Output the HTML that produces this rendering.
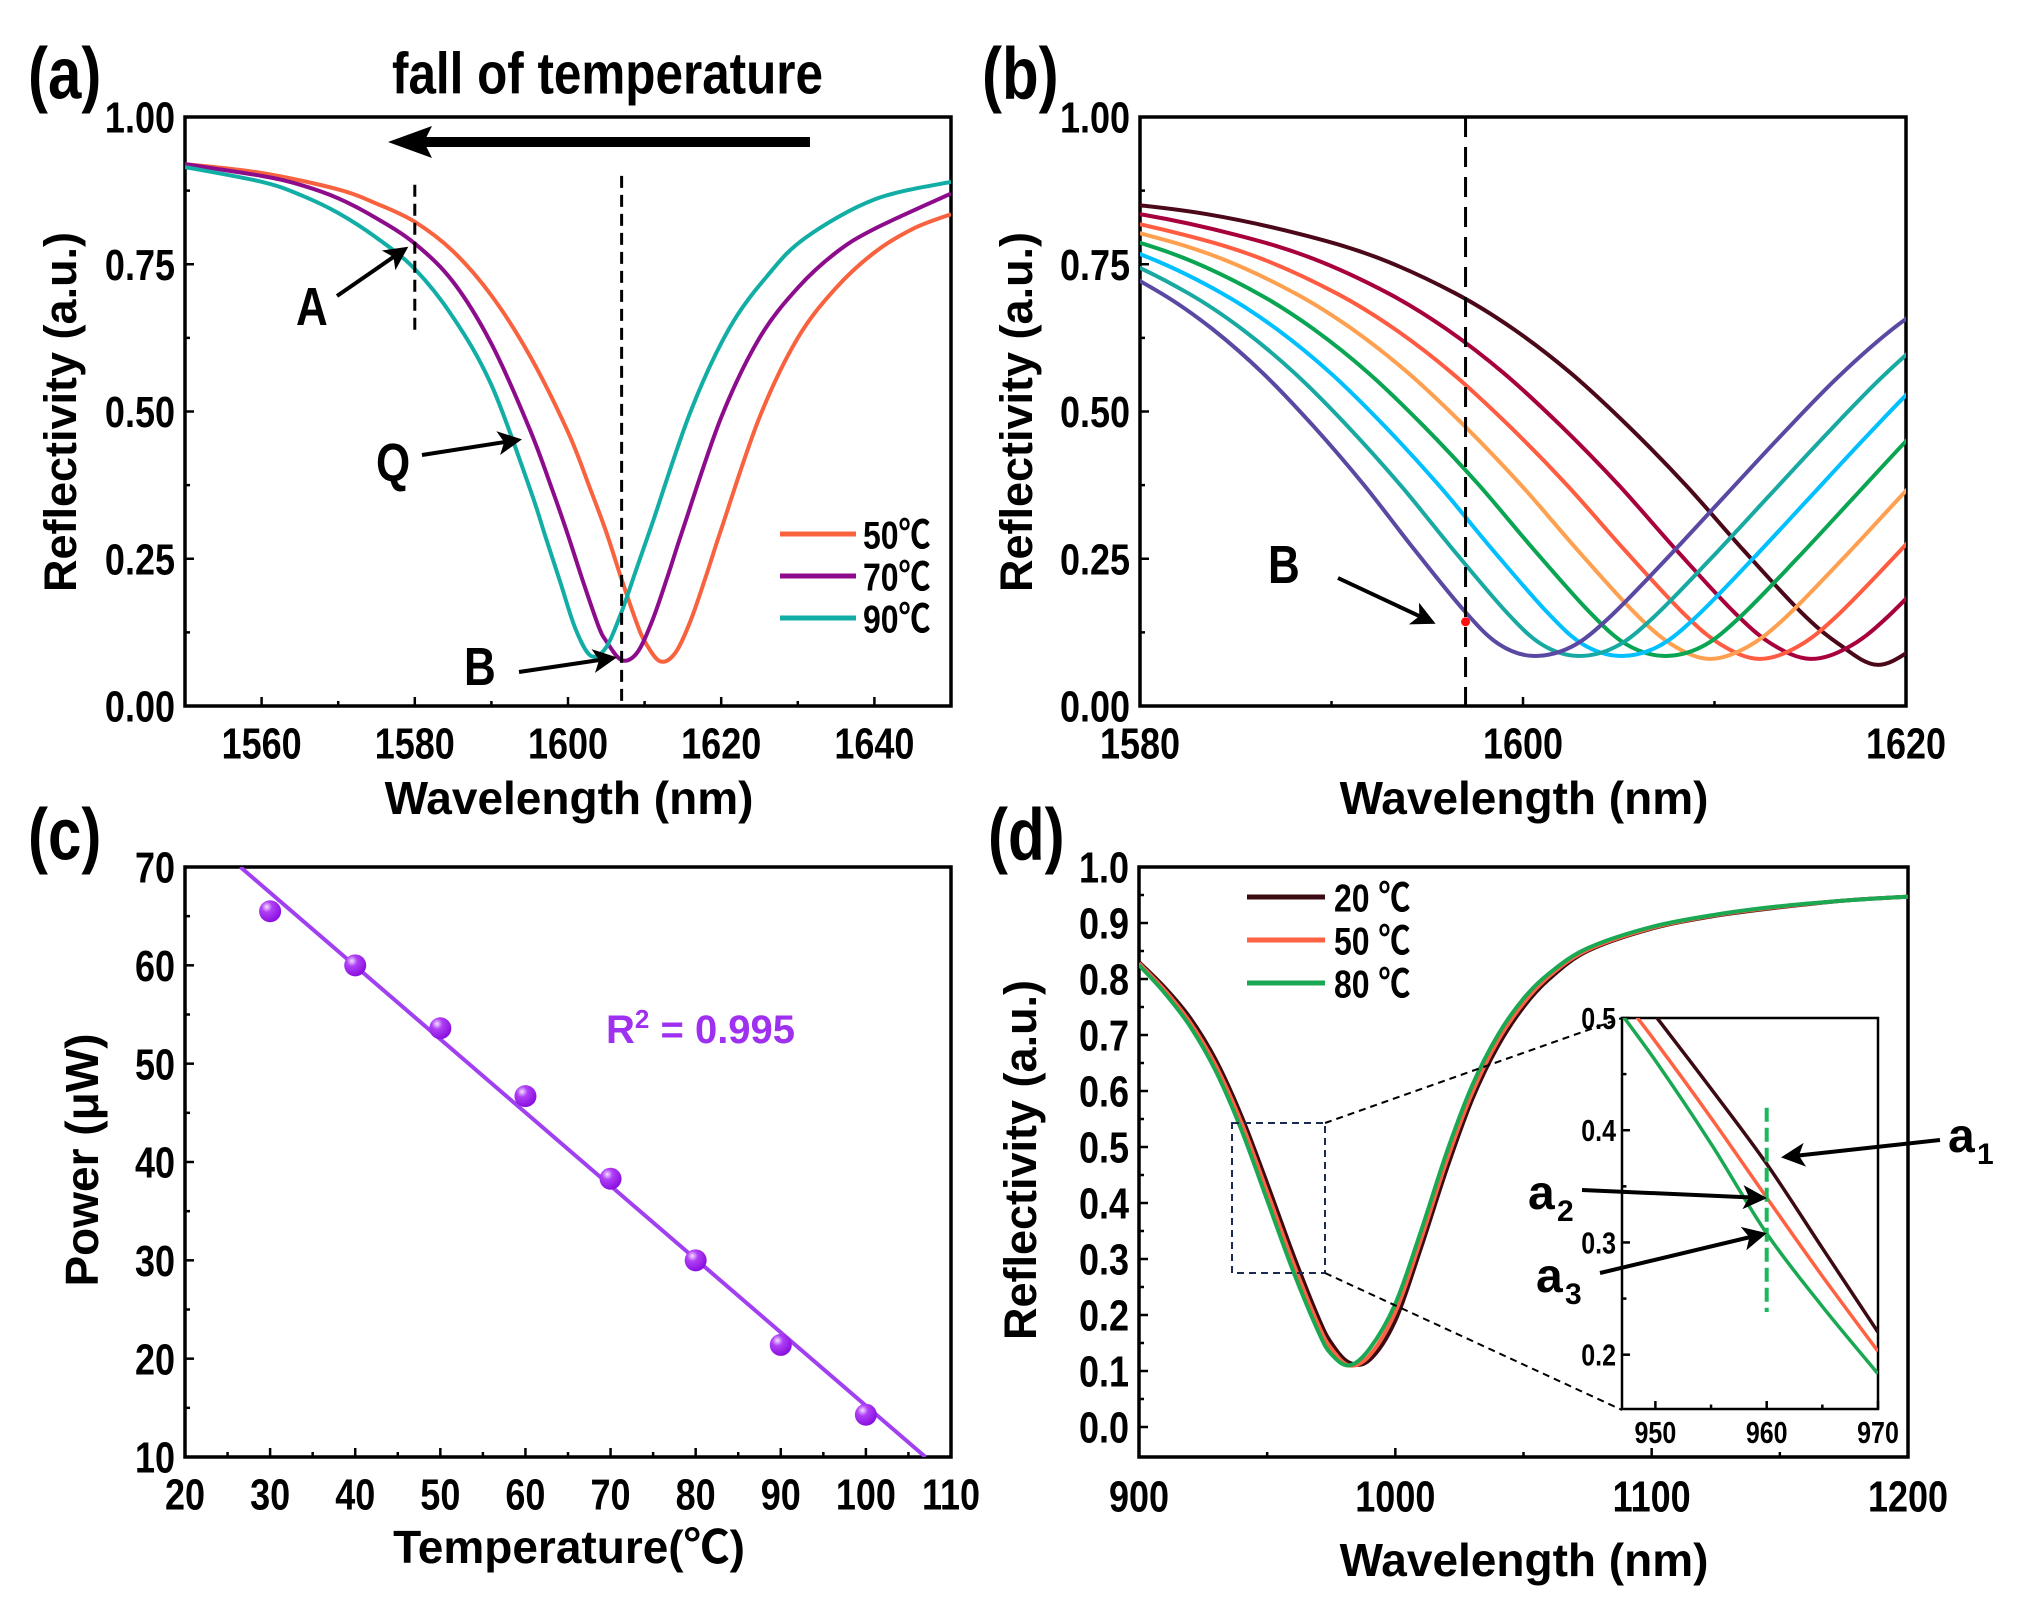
<!DOCTYPE html>
<html><head><meta charset="utf-8">
<style>
html,body{margin:0;padding:0;background:#fff;}
svg{display:block;}
text{font-family:"Liberation Sans","Noto Sans CJK SC",sans-serif;font-weight:bold;fill:#000;}
.tall{transform-box:fill-box;transform-origin:center;transform:scaleY(1.22);}
</style></head>
<body>
<svg id="fig" width="2019" height="1610" viewBox="0 0 2019 1610" xmlns="http://www.w3.org/2000/svg">
<defs>
<marker id="ah" markerWidth="6" markerHeight="6" refX="5" refY="3" orient="auto" markerUnits="strokeWidth"><path d="M0,0 L6,3 L0,6 L1.5,3 z" fill="#000"/></marker>
<radialGradient id="ball" cx="0.35" cy="0.3" r="0.7"><stop offset="0" stop-color="#f4e0ff"/><stop offset="0.35" stop-color="#b040f5"/><stop offset="1" stop-color="#8a10e0"/></radialGradient>
<clipPath id="clipA"><rect x="185" y="117" width="766" height="589"/></clipPath>
<clipPath id="clipB"><rect x="1140" y="117" width="766" height="589"/></clipPath>
<clipPath id="clipC"><rect x="185" y="867" width="766" height="590"/></clipPath>
<clipPath id="clipD"><rect x="1139" y="867" width="769" height="590"/></clipPath>
<clipPath id="clipI"><rect x="1622" y="1018" width="256" height="391"/></clipPath>
</defs>
</svg>
<script>
// ---------- Panel (a) data ----------
const a50X = [1550,1560,1570,1575,1580,1585,1590,1595,1600,1603,1605,1607,1609,1610,1612,1614,1616,1618,1620,1625,1630,1635,1640,1645,1650];
const a50  = [0.92,0.905,0.877,0.853,0.822,0.772,0.697,0.595,0.465,0.365,0.295,0.215,0.14,0.11,0.076,0.09,0.145,0.22,0.30,0.49,0.625,0.71,0.77,0.81,0.835];
const a70X = [1550,1560,1565,1570,1575,1580,1585,1590,1595,1598,1600,1602,1604,1605,1607,1609,1611,1613,1615,1620,1625,1630,1635,1640,1650];
const a70  = [0.92,0.90,0.885,0.862,0.828,0.785,0.72,0.615,0.47,0.365,0.29,0.21,0.135,0.11,0.078,0.09,0.145,0.22,0.30,0.49,0.625,0.71,0.77,0.81,0.87];
const a90X = [1550,1560,1565,1570,1575,1580,1585,1590,1595,1597,1599,1601,1603,1605,1607,1609,1611,1616,1621,1626,1631,1640,1650];
const a90  = [0.915,0.89,0.868,0.837,0.795,0.742,0.66,0.545,0.37,0.29,0.21,0.13,0.085,0.1,0.16,0.235,0.31,0.50,0.64,0.73,0.795,0.86,0.89];
const aLegend = ["50℃","70℃","90℃"];
// ---------- Panel (b) data ----------
const bShapeD = [-46,-40,-35,-30,-26,-22,-19,-16,-13,-10,-7,-4,-2,0,2,4,7,10,13,16,19,22,25];
const bShapeR = [0.87,0.855,0.835,0.80,0.76,0.70,0.64,0.565,0.475,0.375,0.265,0.16,0.105,0.08,0.10,0.15,0.25,0.355,0.46,0.56,0.645,0.71,0.76];
const bCenters = [1618.5,1615,1612.3,1609.7,1607.3,1605,1602.8,1600.5];
const bWidths  = [1.0,1.0,1.0,0.98,0.96,0.94,0.92,0.88];
const bWidthsR = [1.0,1.0,1.0,1.0,1.0,1.0,1.0,1.0];
const bMins    = [0.07,0.08,0.08,0.08,0.085,0.085,0.085,0.085];
const bColors  = ['#4a0818','#a8003c','#ff5c42','#ffa050','#0aa552','#00c0ff','#18aaa2','#5a48a2'];
const bMarkX = 1597, bMarkY = 0.143;
// ---------- Panel (c) data ----------
const cTemp = [30,40,50,60,70,80,90,100];
const cPower = [65.5,60,53.6,46.7,38.3,30,21.4,14.3];
const cFitX = [26.5,107];
const cFitY = [70,10];
// ---------- Panel (d) data ----------
const dX = [900,910,920,930,940,950,960,970,975,982,990,1000,1010,1020,1030,1040,1050,1060,1075,1100,1125,1150,1175,1200];
const d20 = [0.83,0.785,0.73,0.655,0.555,0.435,0.31,0.195,0.15,0.115,0.12,0.19,0.32,0.46,0.585,0.68,0.75,0.80,0.85,0.89,0.913,0.928,0.94,0.947];
const d50 = [0.828,0.78,0.722,0.645,0.543,0.42,0.295,0.182,0.14,0.11,0.128,0.205,0.335,0.475,0.597,0.69,0.757,0.805,0.852,0.891,0.914,0.929,0.94,0.947];
const d80 = [0.825,0.775,0.715,0.635,0.53,0.405,0.28,0.17,0.13,0.11,0.14,0.22,0.35,0.49,0.61,0.70,0.765,0.81,0.855,0.893,0.915,0.93,0.94,0.947];
const dLegend = ["20 ℃","50 ℃","80 ℃"];
const iX = [946,950,955,960,965,970];
const i20 = [0.555,0.502,0.437,0.370,0.295,0.22];
const i50 = [0.531,0.479,0.411,0.340,0.270,0.203];
const i80 = [0.516,0.462,0.388,0.308,0.243,0.183];

const NS="http://www.w3.org/2000/svg";
const svg=document.getElementById('fig');
function el(tag,attrs,parent){const e=document.createElementNS(NS,tag);for(const k in attrs)e.setAttribute(k,attrs[k]);(parent||svg).appendChild(e);return e;}
function txt(s,attrs,parent){const e=el('text',attrs,parent);e.textContent=s;return e;}
function scale(d0,d1,p0,p1){return v=>p0+(v-d0)*(p1-p0)/(d1-d0);}
function smooth(pts){let d='M'+pts[0][0].toFixed(1)+','+pts[0][1].toFixed(1);
 for(let i=0;i<pts.length-1;i++){const p0=pts[i-1]||pts[i],p1=pts[i],p2=pts[i+1],p3=pts[i+2]||p2;
  const c1=[p1[0]+(p2[0]-p0[0])/6,p1[1]+(p2[1]-p0[1])/6],c2=[p2[0]-(p3[0]-p1[0])/6,p2[1]-(p3[1]-p1[1])/6];
  d+=' C'+c1[0].toFixed(1)+','+c1[1].toFixed(1)+' '+c2[0].toFixed(1)+','+c2[1].toFixed(1)+' '+p2[0].toFixed(1)+','+p2[1].toFixed(1);}
 return d;}
function axes(o){
 const g=el('g',{});
 
 
 el('rect',{x:o.x0,y:o.y0,width:o.x1-o.x0,height:o.y1-o.y0,fill:'none',stroke:'#000','stroke-width':o.sw||3.5},g);
 const fx=scale(o.xd[0],o.xd[1],o.x0,o.x1), fy=scale(o.yd[0],o.yd[1],o.y1,o.y0);
 o.xminor.forEach(v=>el('line',{x1:fx(v),x2:fx(v),y1:o.y1,y2:o.y1-(o.tl||9)/1.8,stroke:'#000','stroke-width':2.5},g));
 o.yminor.forEach(v=>el('line',{x1:o.x0,x2:o.x0+(o.tl||9)/1.8,y1:fy(v),y2:fy(v),stroke:'#000','stroke-width':2.5},g));
 o.xticks.forEach((v,i)=>{el('line',{x1:fx(v),x2:fx(v),y1:o.y1,y2:o.y1-(o.tl||9),stroke:'#000','stroke-width':2.5},g);
  const t=txt(o.xlab[i],{x:fx(v),y:o.y1+o.xoff,'text-anchor':'middle','font-size':o.fs,'class':'tall'},g);
  
  });
 o.yticks.forEach((v,i)=>{el('line',{x1:o.x0,x2:o.x0+(o.tl||9),y1:fy(v),y2:fy(v),stroke:'#000','stroke-width':2.5},g);
  const t=txt(o.ylab[i],{x:o.x0-o.yoff,y:fy(v)+o.fs*0.36,'text-anchor':'end','font-size':o.fs,'class':'tall'},g);
  
  });
 return {fx,fy};
}
function series(xs,ys,fx,fy,color,clip,name,w){
 const p=el('path',{d:smooth(xs.map((x,i)=>[fx(x),fy(ys[i])])),fill:'none',stroke:color,'stroke-width':w||4,'clip-path':'url(#'+clip+')','stroke-linejoin':'round'});
 
 
 return p;}
function arrow(x1,y1,x2,y2,name,w){const l=el('line',{x1,y1,x2,y2,stroke:'#000','stroke-width':w||4,'marker-end':'url(#ah)'});
 
 }
function label(s,x,y,fs,name,extra){const t=txt(s,Object.assign({x,y,'font-size':fs},extra||{}));
 
 return t;}
function range(a,b,s){const r=[];for(let v=a;v<=b+1e-9;v+=s)r.push(+v.toFixed(4));return r;}

// ===== Panel (a) =====
let A=axes({name:'panel-a',x0:185,x1:951,y0:117,y1:706,xd:[1550,1650],yd:[0,1],
 xticks:[1560,1580,1600,1620,1640],xlab:['1560','1580','1600','1620','1640'],xminor:[1570,1590,1610,1630],
 yticks:[0,0.25,0.5,0.75,1],ylab:['0.00','0.25','0.50','0.75','1.00'],yminor:[0.125,0.375,0.625,0.875],fs:36,xoff:50,yoff:10});
series(a50X,a50,A.fx,A.fy,'#f8623e','clipA','curve-50c');
series(a70X,a70,A.fx,A.fy,'#8c0c8c','clipA','curve-70c');
series(a90X,a90,A.fx,A.fy,'#12aea6','clipA','curve-90c');
el('line',{x1:A.fx(1580),x2:A.fx(1580),y1:A.fy(0.885),y2:A.fy(0.63),stroke:'#000','stroke-width':3,'stroke-dasharray':'12,7'});
el('line',{x1:A.fx(1607),x2:A.fx(1607),y1:A.fy(0.9),y2:A.fy(0),stroke:'#000','stroke-width':3,'stroke-dasharray':'12,7'});
['#f8623e','#8c0c8c','#12aea6'].forEach((c,i)=>{const yy=534+i*42;
 const l=el('line',{x1:780,x2:856,y1:yy,y2:yy,stroke:c,'stroke-width':5});
 
 
 label(aLegend[i],863,yy+12,32,'legend-entry',{'class':'tall'});});
label('(a)',28,94,60,'panel-label-a',{'class':'tall'});
label('fall of temperature',392,90,48,'arrow-title',{textLength:431,lengthAdjust:'spacingAndGlyphs','class':'tall'});
el('rect',{x:420,y:137,width:390,height:10,fill:'#000'});
el('path',{d:'M388,142 L432,126 L424,142 L432,158 z',fill:'#000'});
label('A',296,322,44,'label-A',{'class':'tall'});arrow(337,296,405,249,'arrow-A');
label('Q',376,478,44,'label-Q',{'class':'tall'});arrow(422,455,518,440,'arrow-Q');
label('B',464,682,44,'label-B-a',{'class':'tall'});arrow(519,672,613,658,'arrow-B-a');
label('Reflectivity (a.u.)',0,0,45,'y-axis-title-a',{transform:'translate(76,412) rotate(-90)','text-anchor':'middle'});
label('Wavelength (nm)',569,814,46,'x-axis-title-a',{'text-anchor':'middle'});

// ===== Panel (b) =====
let B=axes({name:'panel-b',x0:1140,x1:1906,y0:117,y1:706,xd:[1580,1620],yd:[0,1],
 xticks:[1580,1600,1620],xlab:['1580','1600','1620'],xminor:[1590,1610],
 yticks:[0,0.25,0.5,0.75,1],ylab:['0.00','0.25','0.50','0.75','1.00'],yminor:[0.125,0.375,0.625,0.875],fs:36,xoff:50,yoff:10});
bCenters.forEach((c,k)=>{
 const xs=bShapeD.map(d=>c+d*(d<0?bWidths[k]:bWidthsR[k]));
 const ys=bShapeR.map((r,j)=>bShapeD[j]===0?bMins[k]:r);
 series(xs,ys,B.fx,B.fy,bColors[k],'clipB','curve-b'+(k+1));
});
el('line',{x1:B.fx(bMarkX),x2:B.fx(bMarkX),y1:117,y2:706,stroke:'#000','stroke-width':3,'stroke-dasharray':'20,10'});
const dot=el('circle',{cx:B.fx(bMarkX),cy:B.fy(bMarkY),r:4.5,fill:'#ff1010'});


label('(b)',982,94,60,'panel-label-b',{'class':'tall'});
label('B',1268,580,44,'label-B-b',{'class':'tall'});arrow(1338,578,1432,622,'arrow-B-b');
label('Reflectivity (a.u.)',0,0,45,'y-axis-title-b',{transform:'translate(1032,412) rotate(-90)','text-anchor':'middle'});
label('Wavelength (nm)',1524,814,46,'x-axis-title-b',{'text-anchor':'middle'});

// ===== Panel (c) =====
let C=axes({name:'panel-c',x0:185,x1:951,y0:867,y1:1457,xd:[20,110],yd:[10,70],
 xticks:range(20,110,10),xlab:range(20,110,10).map(String),xminor:range(25,105,10),
 yticks:range(10,70,10),ylab:range(10,70,10).map(String),yminor:range(15,65,10),fs:36,xoff:50,yoff:10});
const fit=el('line',{x1:C.fx(cFitX[0]),y1:C.fy(cFitY[0]),x2:C.fx(cFitX[1]),y2:C.fy(cFitY[1]),stroke:'#a040f0','stroke-width':4,'clip-path':'url(#clipC)'});


cTemp.forEach((t,i)=>{const c=el('circle',{cx:C.fx(t),cy:C.fy(cPower[i]),r:11,fill:'url(#ball)'});
 
 });
label('(c)',28,855,60,'panel-label-c',{'class':'tall'});
const r2=label('R',606,1043,40,'r-squared-label',{style:'fill:#a030f0'});
const ts=el('tspan',{dy:-15,'font-size':26},r2);ts.textContent='2';
const ts2=el('tspan',{dy:15},r2);ts2.textContent=' = 0.995';
label('Power (μW)',0,0,46,'y-axis-title-c',{transform:'translate(98,1160) rotate(-90)','text-anchor':'middle'});
label('Temperature(℃)',569,1563,46,'x-axis-title-c',{'text-anchor':'middle'});

// ===== Panel (d) =====
let D=axes({name:'panel-d',x0:1139,x1:1908,y0:867,y1:1457,xd:[900,1200],yd:[-0.0536,1.0],
 xticks:[900,1000,1100,1200],xlab:['900','1000','1100','1200'],xminor:[950,1050,1150],
 yticks:range(0,1,0.1),ylab:range(0,1,0.1).map(v=>v.toFixed(1)),yminor:range(0.05,0.95,0.1),fs:36,xoff:52,yoff:10});
series(dX,d20,D.fx,D.fy,'#3c0a12','clipD','curve-20c');
series(dX,d50,D.fx,D.fy,'#ff6242','clipD','curve-50c-d');
series(dX,d80,D.fx,D.fy,'#1aa852','clipD','curve-80c');
['#3c0a12','#ff6242','#1aa852'].forEach((c,i)=>{const yy=897+i*43;
 const l=el('line',{x1:1247,x2:1325,y1:yy,y2:yy,stroke:c,'stroke-width':5});
 
 
 label(dLegend[i],1334,yy+12,32,'legend-entry',{'class':'tall'});});
el('rect',{x:1232,y:1123,width:93,height:150,fill:'none',stroke:'#1a2a50','stroke-width':2,'stroke-dasharray':'7,5'});
el('line',{x1:1325,y1:1123,x2:1622,y2:1018,stroke:'#000','stroke-width':2,'stroke-dasharray':'7,5'});
el('line',{x1:1325,y1:1273,x2:1622,y2:1410,stroke:'#000','stroke-width':2,'stroke-dasharray':'7,5'});
el('rect',{x:1622,y:1018,width:256,height:391,fill:'#fff'});
let I=axes({name:'inset',x0:1622,x1:1878,y0:1018,y1:1409,xd:[947,970],yd:[0.1516,0.5],sw:2.5,tl:8,
 xticks:[950,960,970],xlab:['950','960','970'],xminor:[955,965],
 yticks:[0.2,0.3,0.4,0.5],ylab:['0.2','0.3','0.4','0.5'],yminor:[0.25,0.35,0.45],fs:25,xoff:32,yoff:6});
series(iX,i20,I.fx,I.fy,'#3c0a12','clipI','inset-curve-20c',3.5);
series(iX,i50,I.fx,I.fy,'#ff6242','clipI','inset-curve-50c',3.5);
series(iX,i80,I.fx,I.fy,'#1aa852','clipI','inset-curve-80c',3.5);
el('line',{x1:I.fx(960),x2:I.fx(960),y1:I.fy(0.42),y2:I.fy(0.238),stroke:'#1ab85a','stroke-width':4,'stroke-dasharray':'14,6'});
label('a',1948,1152,48,'label-a1');label('1',1977,1164,30,'label-a1-sub');
arrow(1940,1140,1785,1157,'arrow-a1');
label('a',1528,1209,48,'label-a2');label('2',1557,1221,30,'label-a2-sub');
arrow(1582,1190,1763,1198,'arrow-a2');
label('a',1536,1292,48,'label-a3');label('3',1565,1304,30,'label-a3-sub');
arrow(1600,1273,1763,1234,'arrow-a3');
label('(d)',988,855,60,'panel-label-d',{'class':'tall'});
label('Reflectivity (a.u.)',0,0,45,'y-axis-title-d',{transform:'translate(1036,1160) rotate(-90)','text-anchor':'middle'});
label('Wavelength (nm)',1524,1576,46,'x-axis-title-d',{'text-anchor':'middle'});
</script>
</body></html>
